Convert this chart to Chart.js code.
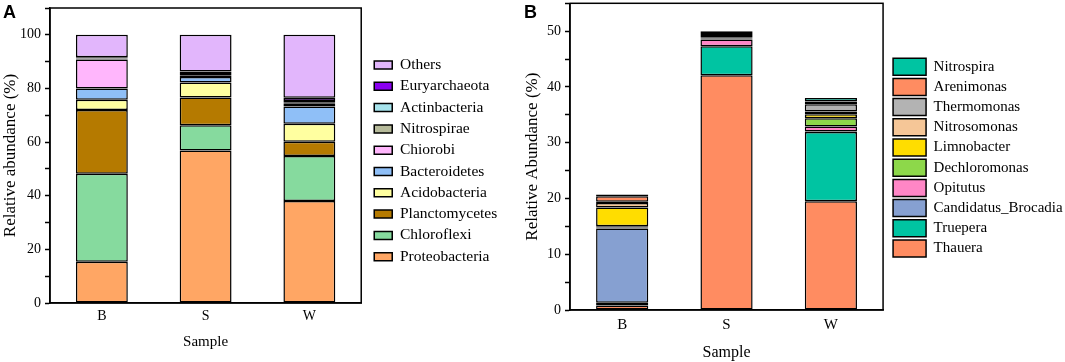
<!DOCTYPE html>
<html>
<head>
<meta charset="utf-8">
<script src="https://cdn.jsdelivr.net/npm/chart.js@4.4.1/dist/chart.umd.min.js"></script>
<style>
  body { margin: 0; background: #fff; width: 1065px; height: 362px; position: relative; overflow: hidden; }
  canvas { position: absolute; top: 0; }
  #chartA { left: 0; }
  #chartB { left: 520px; }
  .tag { position: absolute; top: 2px; z-index: 2; font: bold 18px Arial, "Liberation Sans", sans-serif; line-height: normal; }
</style>
</head>
<body>
<div class="tag" style="left:3px">A</div>
<div class="tag" style="left:524px">B</div>
<canvas id="chartA" width="520" height="362"></canvas>
<canvas id="chartB" width="555" height="362"></canvas>
<script>
// ===== DATA =====
const samples = ["B", "S", "W"];

// panel A: phyla (bottom -> top of stack)
const phyla = ["Proteobacteria", "Chloroflexi", "Planctomycetes", "Acidobacteria", "Bacteroidetes",
               "Chiorobi", "Nitrospirae", "Actinbacteria", "Euryarchaeota", "Others"];
const proteobacteria = [15.4, 56.9, 38.0];
const chloroflexi    = [32.8, 9.4, 16.8];
const planctomycetes = [23.8, 10.3, 5.3];
const acidobacteria  = [3.8, 5.6, 6.7];
const bacteroidetes  = [4.2, 2.1, 6.5];
const chiorobi       = [10.8, 0.6, 1.0];
const nitrospirae    = [0.3, 0.5, 0.6];
const actinbacteria  = [0.2, 0.4, 0.4];
const euryarchaeota  = [0.3, 0.5, 1.2];
const others         = [8.4, 13.7, 23.5];
const phylaColors = ["#FFA664", "#86DA9E", "#B57A00", "#FFFFA0", "#8FBFF7",
                     "#FFB6FC", "#B6BA9A", "#A6E3EC", "#8A00F0", "#E2B6FC"];
const ticksA = [0, 20, 40, 60, 80, 100];

// panel B: genera (bottom -> top of stack)
const genera = ["Thauera", "Truepera", "Candidatus_Brocadia", "Opitutus", "Dechloromonas",
                "Limnobacter", "Nitrosomonas", "Thermomonas", "Arenimonas", "Nitrospira"];
const thauera       = [0.8, 42.1, 19.5];
const truepera      = [0.5, 5.2, 12.4];
const brocadia      = [13.3, 0, 0.1];
const opitutus      = [0.2, 1.2, 0.9];
const dechloromonas = [0.2, 0.1, 1.5];
const limnobacter   = [3.4, 0.1, 0.7];
const nitrosomonas  = [0.8, 0.2, 0.5];
const thermomonas   = [0.2, 0.4, 1.3];
const arenimonas    = [1.0, 0.2, 0.5];
const nitrospira    = [0.3, 0.5, 0.6];
const generaColors = ["#FF8C61", "#00C4A2", "#86A0D1", "#FF86C6", "#8DD84A",
                      "#FFDD00", "#F5C697", "#B3B3B3", "#FF8C61", "#00C4A2"];
const ticksB = [0, 10, 20, 30, 40, 50];

const SERIF = "'Times New Roman', 'Liberation Serif', serif";

// ===== HELPERS =====
function makeSets(names, series, colors) {
  return names.map((n, i) => ({
    label: n,
    data: series[i],
    backgroundColor: colors[i],
    borderColor: "#000",
    borderWidth: 1.5,
    borderSkipped: false,
    barPercentage: 0.5,
    categoryPercentage: 1
  }));
}

// box round the plot area
const framePlugin = {
  id: "frame",
  afterDraw(chart) {
    const { ctx, chartArea: a } = chart;
    ctx.save();
    ctx.strokeStyle = "#000";
    ctx.lineWidth = 1.5;
    ctx.strokeRect(a.left, a.top, a.right - a.left, a.bottom - a.top);
    ctx.restore();
  }
};

function buildChart(id, o) {
  return new Chart(document.getElementById(id), {
    type: "bar",
    data: { labels: samples, datasets: makeSets(o.names, o.series, o.colors) },
    options: {
      responsive: false,
      animation: false,
      layout: { padding: o.padding },
      plugins: {
        tooltip: { enabled: false },
        legend: {
          position: "right",
          align: "start",
          reverse: true,
          maxWidth: 500,
          title: { display: true, text: "", font: { size: 10, lineHeight: 1 }, padding: { top: o.legendOffset, bottom: 0 } },
          labels: { boxWidth: o.boxW, boxHeight: o.boxH, padding: o.legendPad, color: "#000",
                    font: { family: SERIF, size: o.legendFont } }
        }
      },
      scales: {
        x: {
          stacked: true,
          grid: { display: false, drawTicks: false },
          border: { color: "#000", width: 1.5 },
          ticks: { color: "#000", font: { family: SERIF, size: o.xFont }, padding: o.xPad },
          title: { display: true, text: "Sample", color: "#000", font: { family: SERIF, size: o.xTitleFont },
                   padding: { top: 0, bottom: o.xTitlePad } },
          afterFit: s => { s.height = o.xHeight; }
        },
        y: {
          stacked: true,
          min: 0,
          max: o.yMax,
          ticks: {
            stepSize: o.yStep, autoSkip: false, color: "#000", padding: 4,
            font: { family: SERIF, size: 14 },
            callback: v => o.yTicks.includes(v) ? v : ""
          },
          grid: { drawOnChartArea: false, color: "#000", tickLength: 5, tickWidth: 1.5 },
          border: { color: "#000", width: 1.5 },
          title: { display: true, text: o.yTitle, color: "#000", font: { family: SERIF, size: 17 },
                   padding: { top: o.yTitlePad, bottom: 0 } },
          afterFit: s => { s.width = 50; s.paddingTop = 0; s.paddingBottom = 0; }
        },
        gap: {
          position: "right",
          grid: { display: false, drawTicks: false },
          ticks: { display: false },
          border: { display: false },
          afterFit: s => { s.width = o.gap; s.paddingTop = 0; s.paddingBottom = 0; }
        }
      }
    },
    plugins: [framePlugin]
  });
}

// ===== CHARTS =====
buildChart("chartA", {
  names: phyla,
  series: [proteobacteria, chloroflexi, planctomycetes, acidobacteria, bacteroidetes,
           chiorobi, nitrospirae, actinbacteria, euryarchaeota, others],
  colors: phylaColors,
  padding: { top: 8, right: 12.75, bottom: 0, left: 0 },
  legendOffset: 33.45, legendPad: 5.8, legendFont: 15.5, boxW: 18, boxH: 8,
  xFont: 14, xPad: 5, xTitleFont: 15, xTitlePad: 11, xHeight: 59,
  yMax: 110, yStep: 10, yTicks: ticksA, yTitle: "Relative abundance (%)", yTitlePad: 0,
  gap: 7.2
});

buildChart("chartB", {
  names: genera,
  series: [thauera, truepera, brocadia, opitutus, dechloromonas,
           limnobacter, nitrosomonas, thermomonas, arenimonas, nitrospira],
  colors: generaColors,
  padding: { top: 3.3, right: 2.3, bottom: 0, left: 0 },
  legendOffset: 41.7, legendPad: 3.2, legendFont: 15, boxW: 33, boxH: 17,
  xFont: 15, xPad: 6, xTitleFont: 16, xTitlePad: 0, xHeight: 52,
  yMax: 55, yStep: 5, yTicks: ticksB, yTitle: "Relative Abundance (%)", yTitlePad: 2.3,
  gap: 6.8
});
</script>
</body>
</html>
